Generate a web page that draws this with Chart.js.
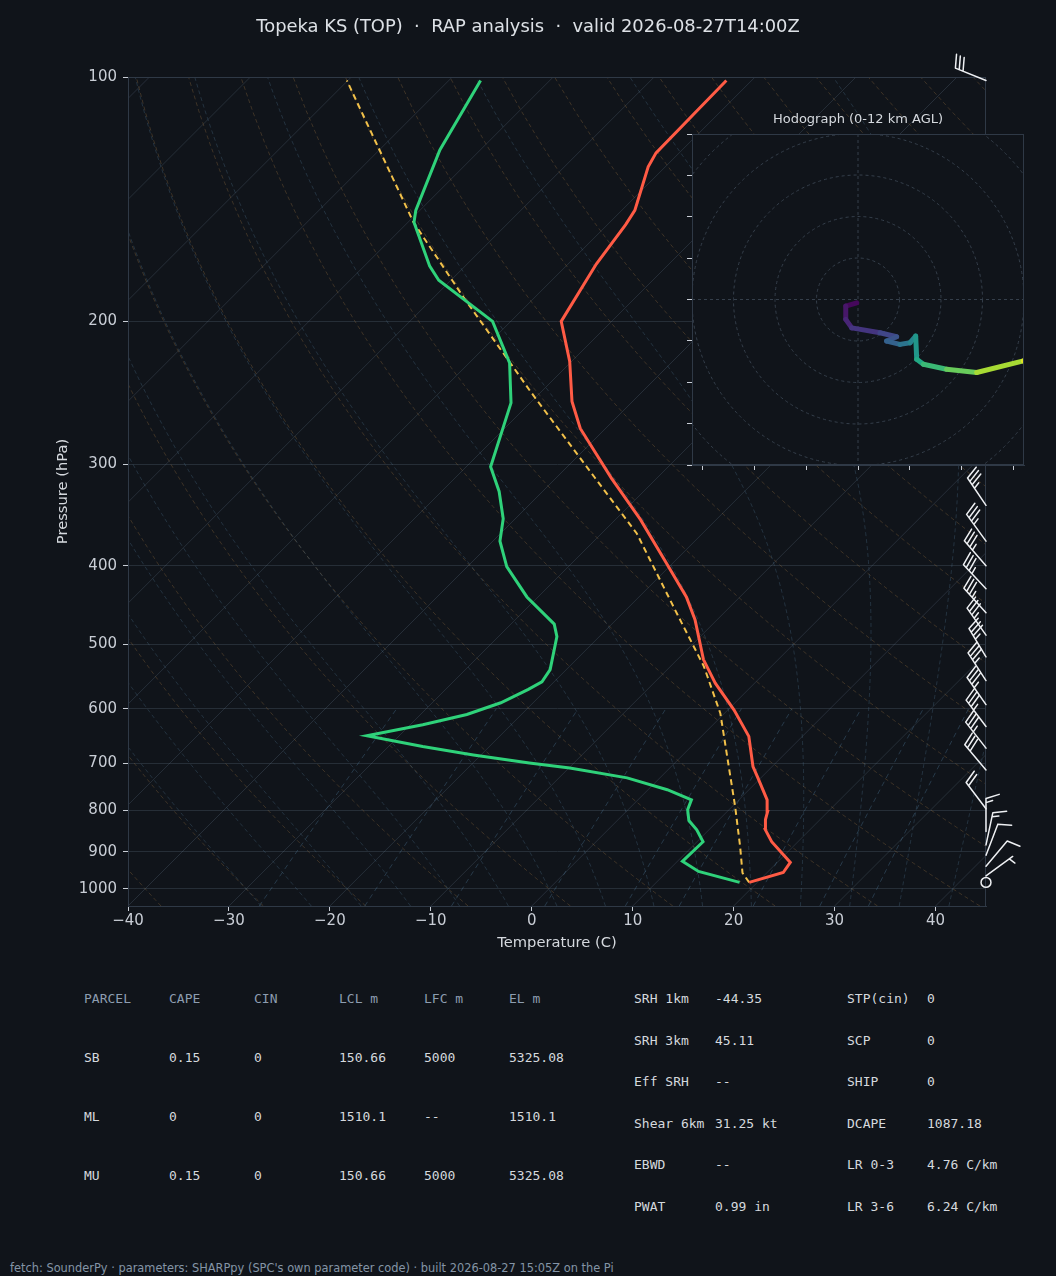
<!DOCTYPE html>
<html>
<head>
<meta charset="utf-8">
<script src="https://cdn.jsdelivr.net/npm/chart.js@4.4.1/dist/chart.umd.min.js"></script>
<style>
  html, body { margin: 0; padding: 0; background: #10141a; }
  #wrap { position: relative; width: 1056px; height: 1276px; overflow: hidden; font-family: "DejaVu Sans", sans-serif; }
  #title { position: absolute; top: 15px; left: 0; width: 1056px; text-align: center; color: #dde1e6; font-size: 17.9px; }
  #skew { position: absolute; left: 0; top: 0; }
  #hodo { position: absolute; left: 680px; top: 105px; }
  .t { position: absolute; font-family: "DejaVu Sans Mono", monospace; font-size: 13px; color: #d5d9de; white-space: pre; line-height: 16px; }
  .h { color: #8d9db0; }
  #foot { position: absolute; left: 10px; top: 1261px; font-size: 11.4px; color: #8494a6; white-space: pre; }
</style>
</head>
<body>
<div id="wrap">
  <canvas id="skew" width="1056" height="960"></canvas>
  <canvas id="hodo" width="360" height="375"></canvas>
  <div id="title">Topeka KS (TOP) &nbsp;·&nbsp; RAP analysis &nbsp;·&nbsp; valid 2026-08-27T14:00Z</div>
  <div id="table"></div>
  <div id="foot">fetch: SounderPy · parameters: SHARPpy (SPC's own parameter code) · built 2026-08-27 15:05Z on the Pi</div>
</div>
<script>
// Sondeo: presion (hPa) y temperatura real (C)
const tempP = [982, 955, 928, 875, 846, 822, 803, 777, 727, 707, 649, 602, 558, 522, 466, 437, 393, 351, 312, 271, 251, 224, 200, 170, 152, 146, 129, 124, 101];
const tempT = [19.2, 21.6, 21.3, 17.4, 15.6, 14.6, 14.0, 12.8, 9.5, 8.1, 4.7, 0.6, -3.9, -7.4, -12.2, -15.3, -21.2, -27.5, -34.5, -42.5, -46.0, -50.2, -55.0, -57.2, -58.2, -58.7, -61.7, -62.3, -62.5];

const dewP = [982, 952, 925, 875, 846, 824, 799, 777, 755, 730, 710, 700, 684, 668, 648, 628, 610, 590, 568, 556, 537, 489, 472, 437, 401, 373, 350, 324, 302, 252, 225, 200, 178, 171, 151, 146, 123, 101];
const dewT = [18.25, 13.1, 10.5, 10.6, 8.8, 7.1, 5.9, 5.3, 1.9, -3.25, -9.9, -14.4, -20.75, -26.6, -33.2, -28.75, -25.4, -23.2, -21.8, -21.2, -21.6, -24.2, -25.7, -31.1, -36.1, -39.3, -41.2, -44.3, -47.6, -51.9, -56.0, -61.8, -71.2, -73.5, -79.4, -80.4, -84.0, -86.85];

const parcelP = [982, 956, 887, 792, 700, 608, 532, 458, 365, 311, 244, 224, 187, 151, 101];
const parcelT = [19.2, 17.6, 14.75, 10.3, 5.3, -0.4, -6.7, -14.6, -26.5, -36.3, -51.1, -56.2, -67.0, -79.45, -100.1];

// Viento: presion, direccion (grados), velocidad (kt)
const windP = [101, 337, 373, 400, 427, 457, 487, 518, 554, 593, 631, 671, 714, 797, 850, 883, 909, 938, 964, 982];
const windDir = [292, 326, 324, 319, 317, 318, 325, 329, 327, 325, 323, 322, 320, 323, 360, 12, 21, 40, 54, 0];
const windSpd = [30, 35, 35, 35, 35, 35, 35, 35, 35, 35, 35, 35, 30, 20, 15, 15, 10, 10, 5, 0];

// Hodografa (kt) y altura (km AGL)
const hodoU = [-0.6, -5.9, -5.9, -3.0, 10.6, 18.6, 13.8, 20.2, 25.1, 27.8, 28.3, 31.5, 42.7, 57.2, 79.7, 100];
const hodoV = [-1.6, -3.2, -9.6, -13.7, -16.1, -18.0, -20.1, -21.7, -20.9, -17.7, -28.9, -31.3, -33.7, -35.3, -29.7, -24];
const hodoZ = [0, 0.5, 1.0, 1.5, 2.2, 2.8, 3.3, 4.2, 5.0, 5.8, 6.8, 7.6, 8.6, 9.8, 11.0, 12];

// Ejes
const pressureTicks = [100, 200, 300, 400, 500, 600, 700, 800, 900, 1000];
const tempTicks = [-40, -30, -20, -10, 0, 10, 20, 30, 40];
const hodoXTicks = [-75, -50, -25, 0, 25, 50, 75];
const hodoYTicks = [-80, -60, -40, -20, 0, 20, 40, 60, 80];
const hodoRings = [20, 40, 60, 80, 100];

// Lineas de fondo
const isotherms = [-120, -110, -100, -90, -80, -70, -60, -50, -40, -30, -20, -10, 0, 10, 20, 30, 40];
const dryThetas = [-40, -30, -20, -10, 0, 10, 20, 30, 40, 50, 60, 70, 80, 90, 100, 110, 120, 130, 140, 150, 160, 170, 180, 190, 200];
const moistT0 = [-30, -25, -20, -15, -10, -5, 0, 5, 10, 15, 20, 25, 30, 35, 40, 45];
const mixRatios = [0.4, 1, 2, 4, 7, 10, 16, 24, 32];

// Tabla
const parcelHeader = ['PARCEL', 'CAPE', 'CIN', 'LCL m', 'LFC m', 'EL m'];
const parcelRows = [
  ['SB', '0.15', '0', '150.66', '5000', '5325.08'],
  ['ML', '0', '0', '1510.1', '--', '1510.1'],
  ['MU', '0.15', '0', '150.66', '5000', '5325.08']
];
const paramRows = [
  ['SRH 1km', '-44.35', 'STP(cin)', '0'],
  ['SRH 3km', '45.11', 'SCP', '0'],
  ['Eff SRH', '--', 'SHIP', '0'],
  ['Shear 6km', '31.25 kt', 'DCAPE', '1087.18'],
  ['EBWD', '--', 'LR 0-3', '4.76 C/km'],
  ['PWAT', '0.99 in', 'LR 3-6', '6.24 C/km']
];

Chart.defaults.font.family = "'DejaVu Sans', sans-serif";
Chart.defaults.animation = false;

// Geometria del diagrama (isotermas a 45 grados)
const AREA = { left: 128, right: 986, top: 77, bottom: 906 };
const X_MIN = -40, X_MAX = 45, P_TOP = 100, P_BOT = 1050;
const SKEW = ((AREA.bottom - AREA.top) / Math.log10(P_BOT / P_TOP)) / ((AREA.right - AREA.left) / (X_MAX - X_MIN));

function skewX(t, p) {
  return t + SKEW * Math.log10(P_BOT / p);
}

function profile(ps, ts) {
  return ps.map((p, i) => ({ x: skewX(ts[i], p), y: p }));
}

function satVap(tc) {
  return 6.112 * Math.exp(17.67 * tc / (tc + 243.5));
}

function moistLapse(p, tk) {
  const Rd = 287.04, Cp = 1005.7, Lv = 2.501e6, eps = 0.622;
  const es = satVap(tk - 273.15);
  const rs = eps * es / (p - es);
  return (1 / p) * (Rd * tk + Lv * rs) / (Cp + Lv * Lv * rs * eps / (Rd * tk * tk));
}

function moistLine(t0) {
  const pts = [];
  let tk = t0 + 273.15;
  const low = [];
  let t2 = tk;
  for (let p = 1000; p < P_BOT; p += 5) {
    const k1 = moistLapse(p, t2);
    const k2 = moistLapse(p + 5, t2 + 5 * k1);
    t2 += 2.5 * (k1 + k2);
    low.push({ x: skewX(t2 - 273.15, p + 5), y: p + 5 });
  }
  low.reverse().forEach(q => pts.push(q));
  pts.push({ x: skewX(t0, 1000), y: 1000 });
  for (let p = 1000; p > P_TOP; p -= 5) {
    const k1 = moistLapse(p, tk);
    const k2 = moistLapse(p - 5, tk - 5 * k1);
    tk -= 2.5 * (k1 + k2);
    pts.push({ x: skewX(tk - 273.15, p - 5), y: p - 5 });
  }
  return pts;
}

function dryLine(t0) {
  const pts = [];
  const th = t0 + 273.15;
  for (let p = P_BOT; p >= P_TOP; p -= 10) {
    pts.push({ x: skewX(th * Math.pow(p / 1000, 0.2857) - 273.15, p), y: p });
  }
  return pts;
}

function mixLine(w) {
  const pts = [];
  for (let p = P_BOT; p >= 600; p -= 25) {
    const r = w / 1000;
    const e = p * r / (0.622 + r);
    const l = Math.log(e / 6.112);
    pts.push({ x: skewX(243.5 * l / (17.67 - l), p), y: p });
  }
  return pts;
}

function bgSet(data, color, dash, width) {
  return { data, borderColor: color, borderWidth: width, borderDash: dash, pointRadius: 0, showLine: true, clip: 0 };
}

const datasets = [
  { data: profile(tempP, tempT), borderColor: '#ff5b45', borderWidth: 3, pointRadius: 0, showLine: true, clip: 0 },
  { data: profile(dewP, dewT), borderColor: '#2fd27a', borderWidth: 3, pointRadius: 0, showLine: true, clip: 0 },
  { data: profile(parcelP, parcelT), borderColor: '#f2c14a', borderWidth: 2, borderDash: [6, 4], pointRadius: 0, showLine: true, clip: 0 }
];
mixRatios.forEach(w => datasets.push(bgSet(mixLine(w), 'rgba(80,125,160,0.40)', [5, 4], 0.9)));
moistT0.forEach(t => datasets.push(bgSet(moistLine(t), 'rgba(80,120,150,0.35)', [4, 3], 0.9)));
dryThetas.forEach(t => datasets.push(bgSet(dryLine(t), 'rgba(150,110,65,0.38)', [4, 3], 0.9)));
isotherms.forEach(t => datasets.push(bgSet([{ x: skewX(t, P_BOT), y: P_BOT }, { x: skewX(t, P_TOP), y: P_TOP }], 'rgba(120,140,165,0.22)', [], 1)));

function drawBarb(ctx, x, y, dir, spd) {
  const L = 33;
  if (spd < 2.5) {
    ctx.beginPath();
    ctx.arc(x, y, 0.15 * L, 0, 2 * Math.PI);
    ctx.stroke();
    return;
  }
  const a = dir * Math.PI / 180;
  const dx = Math.sin(a), dy = -Math.cos(a);
  const px = -dy, py = dx;
  const sp = 0.125 * L, h = 0.4 * L, w = 0.25 * L;
  ctx.beginPath();
  ctx.moveTo(x, y);
  ctx.lineTo(x + L * dx, y + L * dy);
  let s = Math.round(spd / 5) * 5;
  const flags = Math.floor(s / 50); s -= flags * 50;
  const full = Math.floor(s / 10); s -= full * 10;
  const half = s >= 5;
  let off = L;
  for (let i = 0; i < flags; i++) {
    const bx = x + off * dx, by = y + off * dy;
    ctx.moveTo(bx, by);
    ctx.lineTo(bx + h * px - (w / 2) * dx, by + h * py - (w / 2) * dy);
    ctx.lineTo(bx - w * dx, by - w * dy);
    off -= w + sp;
  }
  for (let i = 0; i < full; i++) {
    const bx = x + off * dx, by = y + off * dy;
    ctx.moveTo(bx, by);
    ctx.lineTo(bx + h * px + (w / 2) * dx, by + h * py + (w / 2) * dy);
    off -= sp;
  }
  if (half) {
    if (full === 0 && flags === 0) off -= sp;
    const bx = x + off * dx, by = y + off * dy;
    ctx.moveTo(bx, by);
    ctx.lineTo(bx + (h / 2) * px + (w / 4) * dx, by + (h / 2) * py + (w / 4) * dy);
  }
  ctx.stroke();
}

const skewExtras = {
  id: 'skewExtras',
  afterDraw(chart) {
    const { ctx, chartArea: a, scales } = chart;
    ctx.save();
    ctx.strokeStyle = '#2f3946';
    ctx.lineWidth = 1;
    ctx.strokeRect(a.left + 0.5, a.top + 0.5, a.right - a.left - 1, a.bottom - a.top);
    ctx.strokeStyle = '#eef0f3';
    ctx.lineWidth = 1.5;
    ctx.lineCap = 'round';
    windP.forEach((p, i) => {
      drawBarb(ctx, a.right, scales.y.getPixelForValue(p), windDir[i], windSpd[i]);
    });
    ctx.restore();
  }
};

new Chart(document.getElementById('skew'), {
  type: 'scatter',
  data: { datasets },
  options: {
    responsive: false,
    devicePixelRatio: 1,
    layout: { padding: { top: 77, right: 70, left: 0, bottom: 0 } },
    plugins: { legend: { display: false }, tooltip: { enabled: false } },
    scales: {
      x: {
        type: 'linear', min: X_MIN, max: X_MAX,
        afterBuildTicks: s => { s.ticks = tempTicks.map(v => ({ value: v })); },
        afterFit: s => { s.height = 54; },
        ticks: { color: '#c9ced6', font: { size: 15 }, padding: 1, maxRotation: 0, autoSkip: false,
          callback: v => (v < 0 ? '\u2212' + Math.abs(v) : String(v)) },
        grid: { drawOnChartArea: false, tickLength: 5, tickColor: '#c9ced6' },
        border: { color: '#2f3946' },
        title: { display: true, text: 'Temperature (C)', color: '#d5d9de', font: { size: 14.7 }, padding: { top: 0, bottom: 8 } }
      },
      y: {
        type: 'logarithmic', reverse: true, min: P_TOP, max: P_BOT,
        afterBuildTicks: s => { s.ticks = pressureTicks.map(v => ({ value: v })); },
        afterFit: s => { s.width = 128; },
        ticks: { color: '#c9ced6', font: { size: 15 }, padding: 6, autoSkip: false, callback: v => String(v) },
        grid: { color: '#262e37', lineWidth: 1, tickLength: 5, tickColor: '#c9ced6' },
        border: { color: '#2f3946' },
        title: { display: true, text: 'Pressure (hPa)', color: '#d5d9de', font: { size: 14.7 }, padding: { top: 54, bottom: 0 } }
      }
    }
  },
  plugins: [skewExtras]
});

// Hodografa
const viridis = ['#440154', '#482475', '#414487', '#355f8d', '#2a788e', '#21918c', '#22a884', '#44bf70', '#7ad151', '#bddf26', '#fde725'];

function hexRgb(h) {
  return [parseInt(h.slice(1, 3), 16), parseInt(h.slice(3, 5), 16), parseInt(h.slice(5, 7), 16)];
}

function viridisAt(f) {
  f = Math.max(0, Math.min(1, f)) * (viridis.length - 1);
  const i = Math.min(Math.floor(f), viridis.length - 2);
  const t = f - i;
  const c0 = hexRgb(viridis[i]), c1 = hexRgb(viridis[i + 1]);
  const c = c0.map((v, k) => Math.round(v + (c1[k] - v) * t));
  return `rgb(${c[0]},${c[1]},${c[2]})`;
}

const hodoExtras = {
  id: 'hodoExtras',
  beforeDatasetsDraw(chart) {
    const { ctx, chartArea: a, scales } = chart;
    ctx.save();
    ctx.fillStyle = '#10141a';
    ctx.fillRect(a.left, a.top, a.right - a.left, a.bottom - a.top);
    ctx.beginPath();
    ctx.rect(a.left, a.top, a.right - a.left, a.bottom - a.top);
    ctx.clip();
    const cx = scales.x.getPixelForValue(0), cy = scales.y.getPixelForValue(0);
    ctx.strokeStyle = '#353f4b';
    ctx.lineWidth = 1;
    ctx.setLineDash([3, 3]);
    hodoRings.forEach(r => {
      const rp = scales.x.getPixelForValue(r) - cx;
      ctx.beginPath();
      ctx.arc(cx, cy, rp, 0, 2 * Math.PI);
      ctx.stroke();
    });
    ctx.beginPath();
    ctx.moveTo(a.left, cy); ctx.lineTo(a.right, cy);
    ctx.moveTo(cx, a.top); ctx.lineTo(cx, a.bottom);
    ctx.stroke();
    ctx.restore();
  },
  afterDraw(chart) {
    const { ctx, chartArea: a } = chart;
    ctx.save();
    ctx.strokeStyle = '#2f3946';
    ctx.lineWidth = 1;
    ctx.strokeRect(a.left + 0.5, a.top + 0.5, a.right - a.left - 1, a.bottom - a.top - 1);
    ctx.fillStyle = '#d5d9de';
    ctx.font = "13px 'DejaVu Sans'";
    ctx.textAlign = 'center';
    ctx.textBaseline = 'middle';
    ctx.fillText('Hodograph (0-12 km AGL)', (a.left + a.right) / 2, a.top - 14);
    ctx.restore();
  }
};

new Chart(document.getElementById('hodo'), {
  type: 'scatter',
  data: {
    datasets: [{
      data: hodoU.map((u, i) => ({ x: u, y: hodoV[i] })),
      showLine: true, pointRadius: 0, borderWidth: 5, clip: 0,
      borderCapStyle: 'round', borderJoinStyle: 'round',
      segment: { borderColor: c => viridisAt((hodoZ[c.p0DataIndex] + hodoZ[c.p1DataIndex]) / 24) }
    }]
  },
  options: {
    responsive: false,
    devicePixelRatio: 1,
    layout: { padding: { top: 29, right: 16, left: 0, bottom: 0 } },
    plugins: { legend: { display: false }, tooltip: { enabled: false } },
    scales: {
      x: {
        type: 'linear', min: -80, max: 80,
        afterBuildTicks: s => { s.ticks = hodoXTicks.map(v => ({ value: v })); },
        afterFit: s => { s.height = 15; },
        ticks: { display: false },
        grid: { drawOnChartArea: false, tickLength: 5, tickColor: '#c9ced6' },
        border: { color: '#2f3946' }
      },
      y: {
        type: 'linear', min: -80, max: 80,
        afterBuildTicks: s => { s.ticks = hodoYTicks.map(v => ({ value: v })); },
        afterFit: s => { s.width = 12; },
        ticks: { display: false },
        grid: { drawOnChartArea: false, tickLength: 5, tickColor: '#c9ced6' },
        border: { color: '#2f3946' }
      }
    }
  },
  plugins: [hodoExtras]
});

// Tabla de parametros
const table = document.getElementById('table');
const colX = [84, 169, 254, 339, 424, 509];
const rowY = [999, 1058, 1117, 1176];
function addText(txt, x, y, cls) {
  const d = document.createElement('div');
  d.className = 't' + (cls ? ' ' + cls : '');
  d.textContent = txt;
  d.style.left = x + 'px';
  d.style.top = (y - 8) + 'px';
  table.appendChild(d);
}
parcelHeader.forEach((h, i) => addText(h, colX[i], rowY[0], 'h'));
parcelRows.forEach((r, j) => r.forEach((v, i) => addText(v, colX[i], rowY[j + 1])));
const pX = [634, 715, 847, 927];
paramRows.forEach((r, j) => r.forEach((v, i) => addText(v, pX[i], 999 + j * 41.6)));
</script>
</body>
</html>
